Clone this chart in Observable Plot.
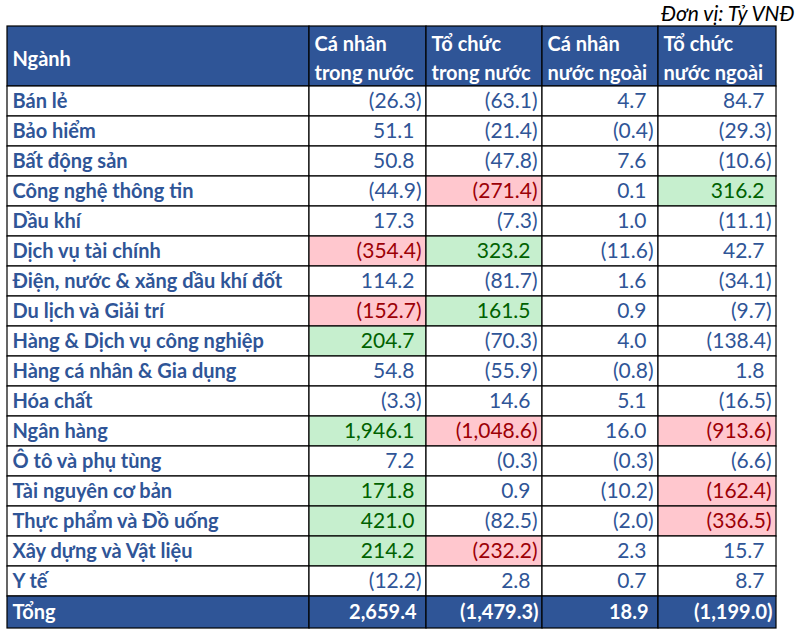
<!DOCTYPE html>
<html><head><meta charset="utf-8">
<script src="https://cdn.jsdelivr.net/npm/d3@7"></script>
<script src="https://cdn.jsdelivr.net/npm/@observablehq/plot@0.6"></script>
<style>body{margin:0;background:#fff}</style>
</head><body><div id="chart"></div>
<script>
// ---------- data ----------
const unitNote = "Đơn vị: Tỷ VNĐ";
const headers = ["Ngành", "Cá nhân\ntrong nước", "Tổ chức\ntrong nước", "Cá nhân\nnước ngoài", "Tổ chức\nnước ngoài"];
const sectors = ["Bán lẻ", "Bảo hiểm", "Bất động sản", "Công nghệ thông tin", "Dầu khí", "Dịch vụ tài chính",
  "Điện, nước & xăng dầu khí đốt", "Du lịch và Giải trí", "Hàng & Dịch vụ công nghiệp", "Hàng cá nhân & Gia dụng",
  "Hóa chất", "Ngân hàng", "Ô tô và phụ tùng", "Tài nguyên cơ bản", "Thực phẩm và Đồ uống", "Xây dựng và Vật liệu", "Y tế"];
const caNhanTrongNuoc = [-26.3, 51.1, 50.8, -44.9, 17.3, -354.4, 114.2, -152.7, 204.7, 54.8, -3.3, 1946.1, 7.2, 171.8, 421.0, 214.2, -12.2];
const toChucTrongNuoc = [-63.1, -21.4, -47.8, -271.4, -7.3, 323.2, -81.7, 161.5, -70.3, -55.9, 14.6, -1048.6, -0.3, 0.9, -82.5, -232.2, 2.8];
const caNhanNuocNgoai = [4.7, -0.4, 7.6, 0.1, 1.0, -11.6, 1.6, 0.9, 4.0, -0.8, 5.1, 16.0, -0.3, -10.2, -2.0, 2.3, 0.7];
const toChucNuocNgoai = [84.7, -29.3, -10.6, 316.2, -11.1, 42.7, -34.1, -9.7, -138.4, 1.8, -16.5, -913.6, -6.6, -162.4, -336.5, 15.7, 8.7];
const totalLabel = "Tổng";
const totals = [2659.4, -1479.3, 18.9, -1199.0];

// ---------- layout & style config ----------
const colW = [302, 117, 116, 116, 118];
const headH = 60, rowH = 30, totH = 32;
const BLUE = "#2F5597", TXT = "#2F5597";
const GREEN_BG = "#C6EFCE", GREEN_TX = "#006100";
const RED_BG = "#FFC7CE", RED_TX = "#9C0006";
const FONT = "Lato, 'Open Sans', sans-serif";
const FS = 20, FSN = 21;

const series = [caNhanTrongNuoc, toChucTrongNuoc, caNhanNuocNgoai, toChucNuocNgoai];
const colX = Array.from(d3.cumsum([0, ...colW]));
const tableW = colX[colX.length - 1];
const tableH = headH + rowH * sectors.length + totH;
const fmt = v => { const s = d3.format(",.1f")(Math.abs(v)); return v < 0 ? `(${s})` : s; };

const cells = [];
headers.forEach((h, c) => cells.push({x1: colX[c], x2: colX[c + 1], y1: 0, y2: headH, fill: BLUE, label: h, kind: "head"}));
sectors.forEach((s, r) => {
  const y1 = headH + r * rowH, y2 = y1 + rowH;
  cells.push({x1: colX[0], x2: colX[1], y1, y2, fill: "#ffffff", label: s, kind: "name"});
  series.forEach((arr, c) => {
    const v = arr[r];
    const hi = v > 150 ? "g" : v < -150 ? "r" : null;
    cells.push({x1: colX[c + 1], x2: colX[c + 2], y1, y2,
      fill: hi === "g" ? GREEN_BG : hi === "r" ? RED_BG : "#ffffff",
      color: hi === "g" ? GREEN_TX : hi === "r" ? RED_TX : TXT,
      label: fmt(v), neg: v < 0, kind: "num"});
  });
});
const ty1 = headH + rowH * sectors.length;
cells.push({x1: colX[0], x2: colX[1], y1: ty1, y2: ty1 + totH, fill: BLUE, label: totalLabel, kind: "totName"});
totals.forEach((v, c) => cells.push({x1: colX[c + 1], x2: colX[c + 2], y1: ty1, y2: ty1 + totH, fill: BLUE,
  label: fmt(v), neg: v < 0, kind: "totNum"}));

const midY = d => (d.y1 + d.y2) / 2;
const pick = k => cells.filter(d => d.kind === k);

const chart = Plot.plot({
  width: 799, height: 638,
  marginLeft: 7, marginRight: 23, marginTop: 26, marginBottom: 10,
  x: {domain: [0, tableW], axis: null},
  y: {domain: [tableH, 0], axis: null},
  color: {type: "identity"},
  style: {fontFamily: FONT, background: "#fff"},
  marks: [
    Plot.rect(cells, {x1: "x1", x2: "x2", y1: "y1", y2: "y2", fill: "fill", stroke: "#000", strokeWidth: 1.2}),
    Plot.text(pick("head"), {x: d => d.x1 + 5, y: midY, text: "label", textAnchor: "start", fill: "#fff",
      fontWeight: "bold", fontSize: FS, lineHeight: 1.45}),
    Plot.text(pick("name"), {x: d => d.x1 + 5, y: midY, text: "label", textAnchor: "start", fill: TXT,
      fontWeight: "bold", fontSize: FS}),
    Plot.text(pick("num"), {x: d => d.x2 - (d.neg ? 5 : 12), y: midY, text: "label", textAnchor: "end", fill: "color",
      fontSize: FSN}),
    Plot.text(pick("totName"), {x: d => d.x1 + 5, y: midY, text: "label", textAnchor: "start", fill: "#fff",
      fontWeight: "bold", fontSize: FS}),
    Plot.text(pick("totNum"), {x: d => d.x2 - (d.neg ? 4 : 10), y: midY, text: "label", textAnchor: "end", fill: "#fff",
      fontWeight: "bold", fontSize: FS}),
    Plot.text([unitNote], {frameAnchor: "top-right", dx: 18, dy: -12, text: d => d, textAnchor: "end",
      lineAnchor: "middle", fontStyle: "italic", fontSize: FSN, fill: "#000"})
  ]
});
document.getElementById("chart").append(chart);
</script></body></html>
